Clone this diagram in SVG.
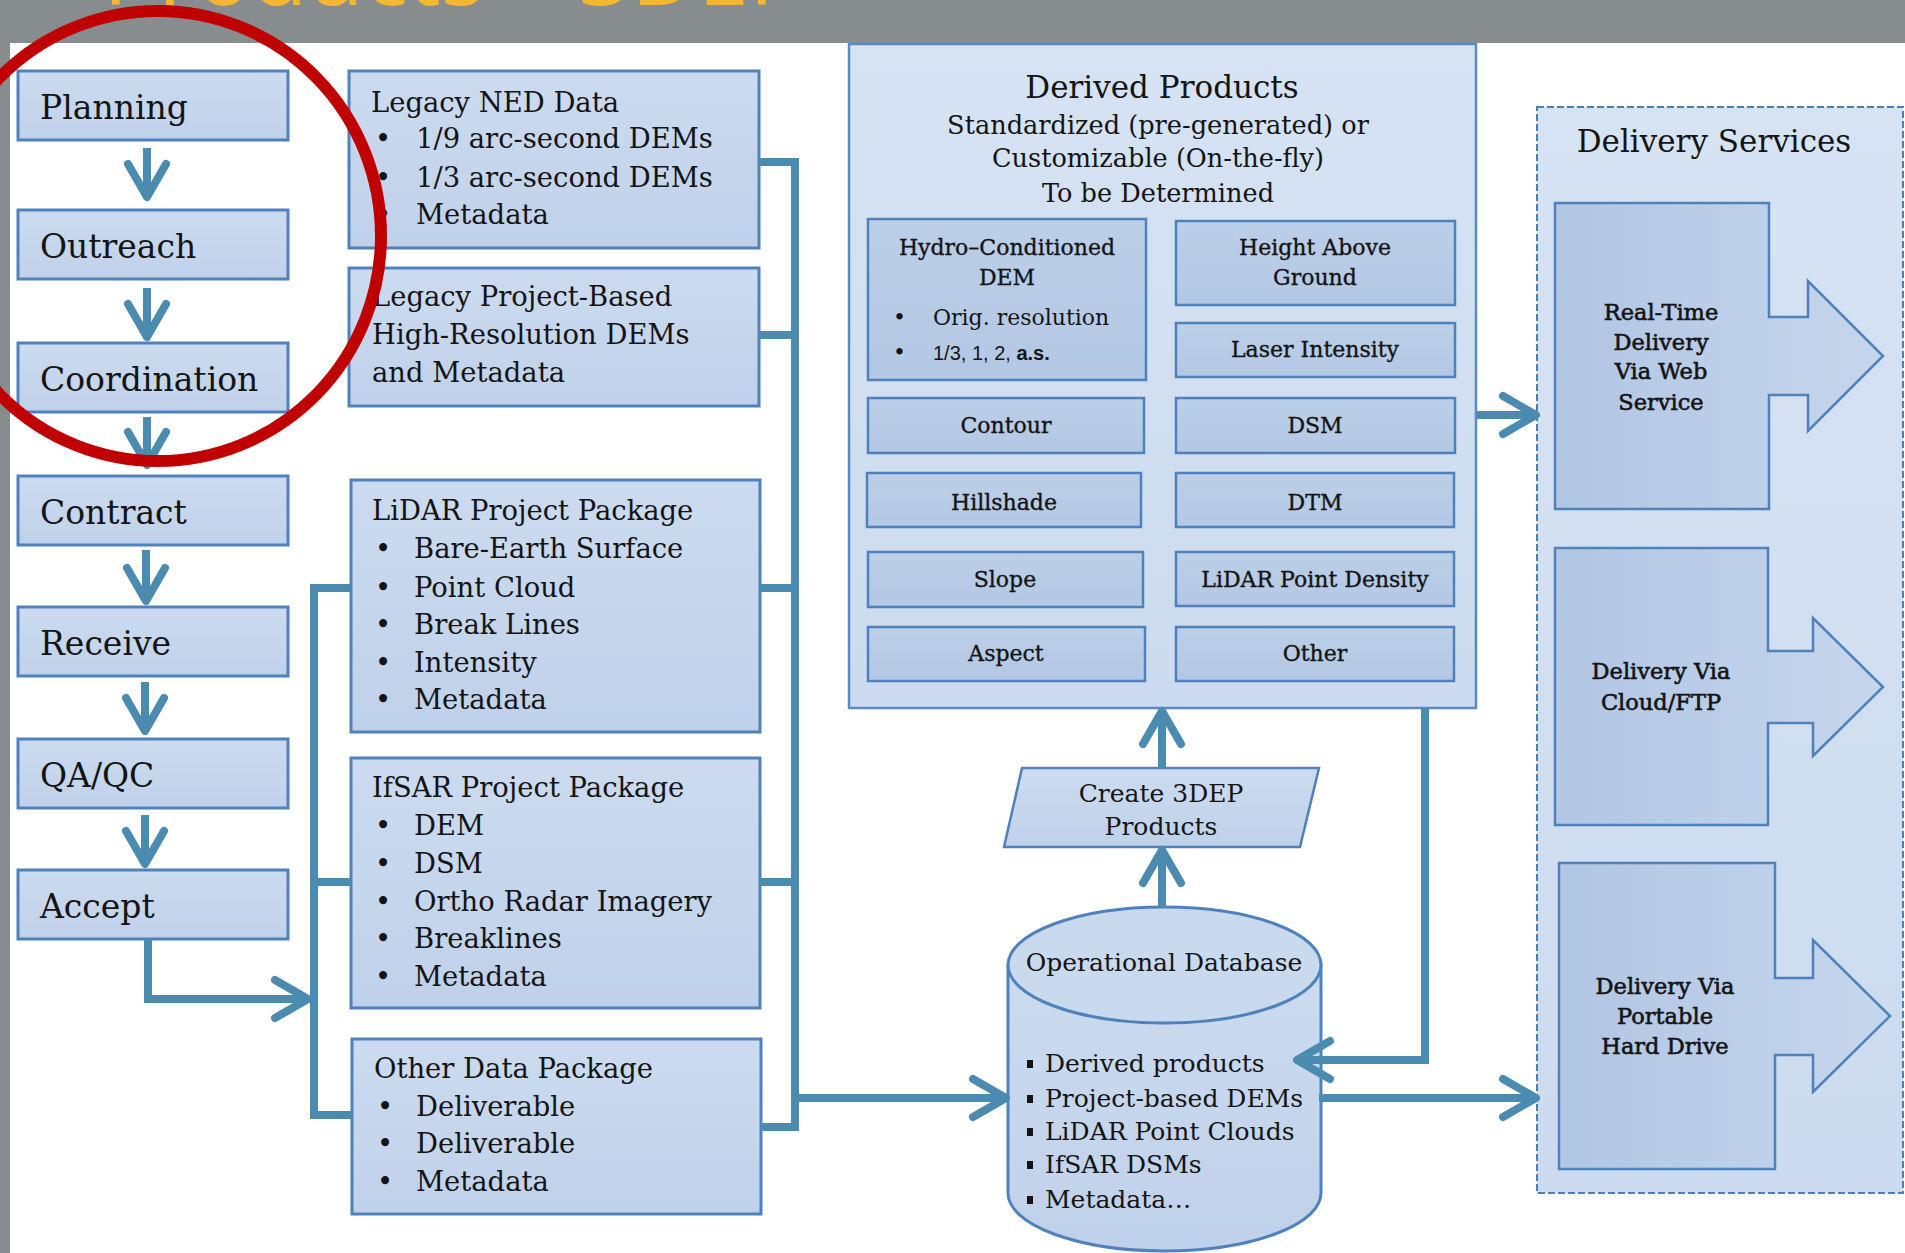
<svg xmlns="http://www.w3.org/2000/svg" width="1905" height="1253" viewBox="0 0 1905 1253">
  <defs>
    <linearGradient id="gBox" x1="0" y1="0" x2="0" y2="1">
      <stop offset="0" stop-color="#CCDBEF"/>
      <stop offset="1" stop-color="#BFD1EA"/>
    </linearGradient>
    <linearGradient id="gOuter" x1="0" y1="0" x2="0" y2="1">
      <stop offset="0" stop-color="#D6E3F3"/>
      <stop offset="1" stop-color="#CCDBEF"/>
    </linearGradient>
    <linearGradient id="gInner" x1="0" y1="0" x2="0" y2="1">
      <stop offset="0" stop-color="#BCCFE8"/>
      <stop offset="1" stop-color="#B3C8E4"/>
    </linearGradient>
    <linearGradient id="gDeliv" x1="0" y1="0" x2="1" y2="0">
      <stop offset="0" stop-color="#B1C6E4"/>
      <stop offset="1" stop-color="#C6D6EC"/>
    </linearGradient>
    <marker id="chev" markerUnits="userSpaceOnUse" viewBox="-50 -30 60 60" refX="0" refY="0" markerWidth="60" markerHeight="60" orient="auto" overflow="visible">
      <path d="M-34,-19 L-1,0 L-34,19" fill="none" stroke="#4B8BB0" stroke-width="8" stroke-linecap="round" stroke-linejoin="round"/>
    </marker>
    <style>
      .box { fill: url(#gBox); stroke: #4F81BD; stroke-width: 3; }
      .outer { fill: url(#gOuter); stroke: #5A8AC6; stroke-width: 2.5; }
      .inner { fill: url(#gInner); stroke: #4F81BD; stroke-width: 2.5; }
      .deliv { fill: url(#gDeliv); stroke: #4F81BD; stroke-width: 2.5; }
      .conn { fill: none; stroke: #4B8BB0; stroke-width: 8; }
      .arr { marker-end: url(#chev); }
      .t { font-family: "DejaVu Serif", "Liberation Serif", serif; fill: #141414; }
      .step { font-size: 33px; }
      .mid { font-size: 27.4px; }
      .sub { font-size: 25.6px; text-anchor: middle; }
      .in { font-size: 22px; text-anchor: middle; stroke: #141414; stroke-width: 0.35; }
      .db { font-size: 25px; }
      .dv { font-size: 22.5px; text-anchor: middle; stroke: #141414; stroke-width: 0.6; }
    </style>
  </defs>

  <!-- page background -->
  <rect x="0" y="0" width="1905" height="1253" fill="#878D8F"/>
  <rect x="10" y="43" width="1895" height="1210" fill="#FFFFFF"/>
  <text x="103" y="5" font-family="'Open Sans', 'Liberation Sans', sans-serif" font-size="92" fill="#F3B731">Products – 3DEP</text>

  <!-- workflow steps -->
  <g id="step-planning"><rect class="box" x="18" y="71" width="270" height="69"/><text class="t step" x="40" y="119">Planning</text></g>
  <g id="step-outreach"><rect class="box" x="18" y="210" width="270" height="69"/><text class="t step" x="40" y="258">Outreach</text></g>
  <g id="step-coordination"><rect class="box" x="18" y="343" width="270" height="69"/><text class="t step" x="40" y="391">Coordination</text></g>
  <g id="step-contract"><rect class="box" x="18" y="476" width="270" height="69"/><text class="t step" x="40" y="524">Contract</text></g>
  <g id="step-receive"><rect class="box" x="18" y="607" width="270" height="69"/><text class="t step" x="40" y="655">Receive</text></g>
  <g id="step-qaqc"><rect class="box" x="18" y="739" width="270" height="69"/><text class="t step" x="40" y="787">QA/QC</text></g>
  <g id="step-accept"><rect class="box" x="18" y="870" width="270" height="69"/><text class="t step" x="40" y="918">Accept</text></g>

  <!-- data packages -->
  <g id="legacy-ned">
    <rect class="box" x="349" y="71" width="410" height="177"/>
    <text class="t mid" x="371" y="112">Legacy NED Data</text>
    <text class="t mid" x="375" y="148">•</text><text class="t mid" x="416" y="148">1/9 arc-second DEMs</text>
    <text class="t mid" x="375" y="187">•</text><text class="t mid" x="416" y="187">1/3 arc-second DEMs</text>
    <text class="t mid" x="375" y="224">•</text><text class="t mid" x="416" y="224">Metadata</text>
  </g>
  <g id="legacy-project">
    <rect class="box" x="349" y="268" width="410" height="138"/>
    <text class="t mid" x="372" y="306">Legacy Project-Based</text>
    <text class="t mid" x="372" y="344">High-Resolution DEMs</text>
    <text class="t mid" x="372" y="382">and Metadata</text>
  </g>
  <g id="lidar-package">
    <rect class="box" x="351" y="480" width="409" height="252"/>
    <text class="t mid" x="372" y="520">LiDAR Project Package</text>
    <text class="t mid" x="375" y="558">•</text><text class="t mid" x="414" y="558">Bare-Earth Surface</text>
    <text class="t mid" x="375" y="597">•</text><text class="t mid" x="414" y="597">Point Cloud</text>
    <text class="t mid" x="375" y="634">•</text><text class="t mid" x="414" y="634">Break Lines</text>
    <text class="t mid" x="375" y="672">•</text><text class="t mid" x="414" y="672">Intensity</text>
    <text class="t mid" x="375" y="709">•</text><text class="t mid" x="414" y="709">Metadata</text>
  </g>
  <g id="ifsar-package">
    <rect class="box" x="351" y="758" width="409" height="250"/>
    <text class="t mid" x="372" y="797">IfSAR Project Package</text>
    <text class="t mid" x="375" y="835">•</text><text class="t mid" x="414" y="835">DEM</text>
    <text class="t mid" x="375" y="873">•</text><text class="t mid" x="414" y="873">DSM</text>
    <text class="t mid" x="375" y="911">•</text><text class="t mid" x="414" y="911">Ortho Radar Imagery</text>
    <text class="t mid" x="375" y="948">•</text><text class="t mid" x="414" y="948">Breaklines</text>
    <text class="t mid" x="375" y="986">•</text><text class="t mid" x="414" y="986">Metadata</text>
  </g>
  <g id="other-package">
    <rect class="box" x="352" y="1039" width="409" height="175"/>
    <text class="t mid" x="374" y="1078">Other Data Package</text>
    <text class="t mid" x="377" y="1116">•</text><text class="t mid" x="416" y="1116">Deliverable</text>
    <text class="t mid" x="377" y="1153">•</text><text class="t mid" x="416" y="1153">Deliverable</text>
    <text class="t mid" x="377" y="1191">•</text><text class="t mid" x="416" y="1191">Metadata</text>
  </g>

  <!-- derived products -->
  <g id="derived-products">
    <rect class="outer" x="849" y="44" width="627" height="664"/>
    <text class="t" x="1162" y="98" font-size="31" text-anchor="middle">Derived Products</text>
    <text class="t sub" x="1158" y="134">Standardized (pre-generated) or</text>
    <text class="t sub" x="1158" y="167">Customizable (On-the-fly)</text>
    <text class="t sub" x="1158" y="202">To be Determined</text>
    <g id="dp-hydro">
      <rect class="inner" x="868" y="219" width="278" height="161"/>
      <text class="t in" x="1007" y="255">Hydro–Conditioned</text>
      <text class="t in" x="1007" y="285">DEM</text>
      <text class="t" x="893" y="325" font-size="22">•</text>
      <text class="t" x="933" y="325" font-size="22">Orig. resolution</text>
      <text class="t" x="893" y="360" font-size="22">•</text>
      <text x="933" y="360" font-family="'Liberation Sans', Arial, sans-serif" font-size="20" fill="#141414">1/3, 1, 2, <tspan font-weight="bold">a.s.</tspan></text>
    </g>
    <g id="dp-hag"><rect class="inner" x="1176" y="221" width="279" height="84"/><text class="t in" x="1315" y="255">Height Above</text><text class="t in" x="1315" y="285">Ground</text></g>
    <g id="dp-laser"><rect class="inner" x="1176" y="323" width="279" height="54"/><text class="t in" x="1315" y="357">Laser Intensity</text></g>
    <g id="dp-contour"><rect class="inner" x="868" y="398" width="276" height="55"/><text class="t in" x="1006" y="433">Contour</text></g>
    <g id="dp-dsm"><rect class="inner" x="1176" y="398" width="279" height="55"/><text class="t in" x="1315" y="433">DSM</text></g>
    <g id="dp-hillshade"><rect class="inner" x="867" y="473" width="274" height="54"/><text class="t in" x="1004" y="510">Hillshade</text></g>
    <g id="dp-dtm"><rect class="inner" x="1176" y="473" width="278" height="54"/><text class="t in" x="1315" y="510">DTM</text></g>
    <g id="dp-slope"><rect class="inner" x="868" y="552" width="275" height="55"/><text class="t in" x="1005" y="587">Slope</text></g>
    <g id="dp-density"><rect class="inner" x="1176" y="552" width="278" height="54"/><text class="t in" x="1315" y="587">LiDAR Point Density</text></g>
    <g id="dp-aspect"><rect class="inner" x="868" y="627" width="277" height="54"/><text class="t in" x="1006" y="661">Aspect</text></g>
    <g id="dp-other"><rect class="inner" x="1176" y="627" width="278" height="54"/><text class="t in" x="1315" y="661">Other</text></g>
  </g>

  <!-- create products step -->
  <g id="create-3dep">
    <polygon points="1022,768 1319,768 1300,847 1004,847" fill="url(#gBox)" stroke="#4F81BD" stroke-width="2.5"/>
    <text class="t" x="1161" y="802" font-size="25" text-anchor="middle">Create 3DEP</text>
    <text class="t" x="1161" y="835" font-size="25" text-anchor="middle">Products</text>
  </g>

  <!-- operational database -->
  <g id="operational-db">
    <path d="M1008,965 L1008,1193 A156.5,58 0 0 0 1321,1193 L1321,965 Z" fill="url(#gBox)" stroke="#4F81BD" stroke-width="3"/>
    <ellipse cx="1164.5" cy="965" rx="156.5" ry="58" fill="#C9D9EE" stroke="#4F81BD" stroke-width="3"/>
    <text class="t db" x="1164" y="971" text-anchor="middle">Operational Database</text>
    <g fill="#141414">
      <rect x="1027" y="1060" width="6" height="8"/>
      <rect x="1027" y="1095" width="6" height="8"/>
      <rect x="1027" y="1128" width="6" height="8"/>
      <rect x="1027" y="1161" width="6" height="8"/>
      <rect x="1027" y="1196" width="6" height="8"/>
    </g>
    <text class="t db" x="1045" y="1072">Derived products</text>
    <text class="t db" x="1045" y="1107">Project-based DEMs</text>
    <text class="t db" x="1045" y="1140">LiDAR Point Clouds</text>
    <text class="t db" x="1045" y="1173">IfSAR DSMs</text>
    <text class="t db" x="1045" y="1208">Metadata…</text>
  </g>

  <!-- delivery services -->
  <g id="delivery-services">
    <rect x="1537" y="107" width="366" height="1086" fill="url(#gOuter)" stroke="#4F7FB0" stroke-width="2" stroke-dasharray="7 3"/>
    <text class="t" x="1714" y="152" font-size="31" text-anchor="middle">Delivery Services</text>
    <g id="ds-web">
      <path class="deliv" d="M1555,203 H1769 V317 H1808 V281 L1883,356 L1808,431 V395 H1769 V509 H1555 Z"/>
      <text class="t dv" x="1661" y="320">Real-Time</text>
      <text class="t dv" x="1661" y="350">Delivery</text>
      <text class="t dv" x="1661" y="379">Via Web</text>
      <text class="t dv" x="1661" y="410">Service</text>
    </g>
    <g id="ds-cloud">
      <path class="deliv" d="M1555,548 H1768 V651 H1813 V618 L1883,687 L1813,756 V723 H1768 V825 H1555 Z"/>
      <text class="t dv" x="1661" y="679">Delivery Via</text>
      <text class="t dv" x="1661" y="710">Cloud/FTP</text>
    </g>
    <g id="ds-drive">
      <path class="deliv" d="M1559,863 H1775 V978 H1813 V940 L1890,1016 L1813,1092 V1055 H1775 V1169 H1559 Z"/>
      <text class="t dv" x="1665" y="994">Delivery Via</text>
      <text class="t dv" x="1665" y="1024">Portable</text>
      <text class="t dv" x="1665" y="1054">Hard Drive</text>
    </g>
  </g>

  <!-- connectors -->
  <g id="connectors">
    <path class="conn arr" d="M147,148 V198"/>
    <path class="conn arr" d="M147,288 V338"/>
    <path class="conn arr" d="M147,417 V466"/>
    <path class="conn arr" d="M146,550 V602"/>
    <path class="conn arr" d="M145,682 V732"/>
    <path class="conn arr" d="M145,815 V865"/>
    <path class="conn arr" d="M148,939 V999 H309"/>
    <path class="conn" d="M351,588 H314 V1115 H352 M314,882 H351"/>
    <path class="conn" d="M759,162 H795 V1127 H761 M759,335 H795 M760,588 H795 M760,882 H795"/>
    <path class="conn arr" d="M795,1098 H1007"/>
    <path class="conn arr" d="M1162,907 V849"/>
    <path class="conn arr" d="M1162,768 V710"/>
    <path class="conn arr" d="M1425,708 V1060 H1296"/>
    <path class="conn arr" d="M1476,415 H1537"/>
    <path class="conn arr" d="M1319,1098 H1537"/>
  </g>

  <!-- highlight ring over the early workflow steps -->
  <ellipse id="highlight" cx="158" cy="236" rx="223" ry="225" fill="none" stroke="#C00000" stroke-width="12"/>
</svg>
